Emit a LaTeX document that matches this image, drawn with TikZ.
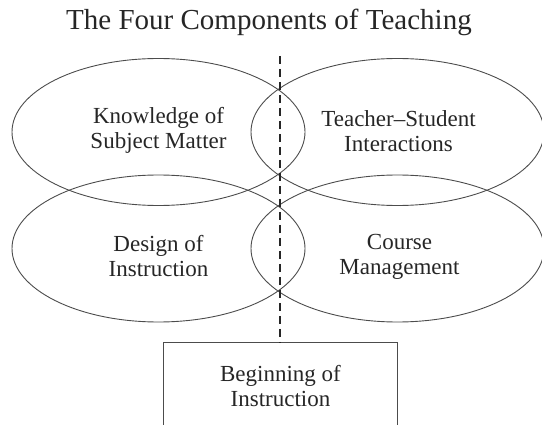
\documentclass[tikz,border=0pt]{standalone}
\usepackage{fontspec}
\setmainfont{Liberation Serif}
\usetikzlibrary{shapes.geometric}
\begin{document}
\begin{tikzpicture}[x=1pt,y=-1pt,
  comp/.style={draw=black!70,line width=0.9pt,ellipse,minimum width=293pt,minimum height=147pt,inner sep=0pt},
  divider/.style={draw=black!85,line width=2.4pt,dash pattern=on 8pt off 5pt},
  lbl/.style={align=center,font=\fontsize{23}{25}\selectfont,text=black!85}]
\useasboundingbox (0,0) rectangle (542,425);
\node[font=\fontsize{29}{32}\selectfont,text=black!85] (title) at (269,22) {The Four Components of Teaching};
\node[comp] (know) at (158.5,132) {};
\node[comp] (inter) at (397.5,132) {};
\node[comp] (design) at (158.5,248.5) {};
\node[comp] (manage) at (397.5,248.5) {};
\node[lbl] (knowt) at ([yshift=1.5pt]know.center) {Knowledge of\\Subject Matter};
\node[lbl] (intert) at ([xshift=1pt,yshift=1pt]inter.center) {Teacher–Student\\Interactions};
\node[lbl] (designt) at ([yshift=-8pt]design.center) {Design of\\Instruction};
\node[lbl] (managet) at ([xshift=2pt,yshift=-8pt]manage.center) {Course\\Management};
\node[lbl,minimum width=233pt,minimum height=86pt,inner sep=0pt] (begin) at (280.5,386) {Beginning of\\Instruction};
\draw[draw=black!70,line width=0.9pt] (begin.south west) -- (begin.north west) -- (begin.north east) -- (begin.south east);
\coordinate (top) at (280,56);
\draw[divider] (top) -- (top |- begin.north);
\end{tikzpicture}
\end{document}
